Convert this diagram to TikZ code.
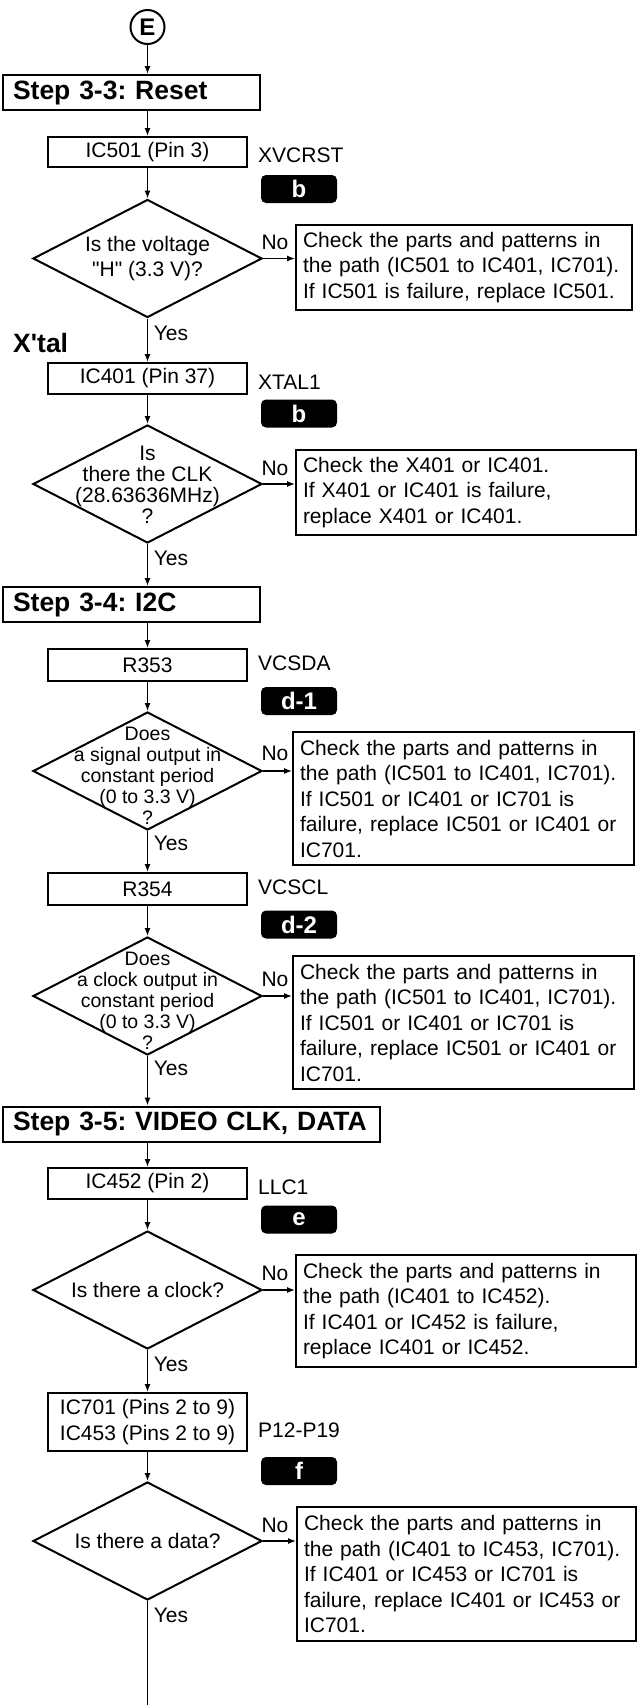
\documentclass[tikz,border=0pt]{standalone}
\usepackage{fontspec}
\setmainfont{Liberation Sans}[Ligatures=TeXOff]
\frenchspacing
\usetikzlibrary{shapes.geometric,arrows.meta}
\tikzset{
 box/.style={draw, line width=2pt, rectangle, inner sep=0pt, minimum width=199pt, font=\fontsize{21}{26}\selectfont, align=center},
 stepbox/.style={draw, line width=2pt, rectangle, inner xsep=10pt, inner ysep=0pt, minimum height=35pt, font=\bfseries\fontsize{26.5}{30}\selectfont, align=left},
 dia/.style={draw, line width=2pt, diamond, inner sep=0pt, minimum width=229pt, minimum height=118pt},
 diatext/.style={font=\fontsize{21}{25}\selectfont, align=center, inner sep=0pt},
 diatight/.style={font=\fontsize{21}{21}\selectfont, align=center, inner sep=0pt},
 diasmall/.style={font=\fontsize{19.5}{21}\selectfont, align=center, inner sep=0pt},
 badge/.style={fill=black, rounded corners=5pt, text=white, font=\bfseries\fontsize{24}{24}\selectfont, minimum width=76pt, minimum height=28pt, inner sep=0pt},
 chk/.style={draw, line width=2pt, rectangle, inner xsep=7pt, inner ysep=0pt, align=left, font=\fontsize{21}{25.5}\selectfont},
 lbl/.style={font=\fontsize{21}{25}\selectfont, inner sep=0pt},
 boldlbl/.style={font=\bfseries\fontsize{26.5}{30}\selectfont, inner sep=0pt},
 arr/.style={line width=1.2pt, -{Latex[length=8pt,width=6pt]}},
 plain/.style={line width=1.2pt},
}
\begin{document}
\begin{tikzpicture}[x=1pt,y=-1pt]
\useasboundingbox (0,0) rectangle (637,1705);
% E connector
\node[draw, circle, line width=2pt, minimum size=34pt, inner sep=0pt, font=\bfseries\fontsize{24}{24}\selectfont] (E) at (147.5,27) {E};
% Step 3-3
\node[stepbox, text width=237pt] (s33) at (131.5,92.5) {Step 3-3: Reset};
\node[box, minimum height=30pt] (ic501) at (147.5,152) {IC501 (Pin 3)};
\node[lbl, anchor=west] (xvcrst) at (258,155) {XVCRST};
\node[badge] (bA) at (299,189) {b};
\node[dia] (d1) at (147.5,258.5) {};
\node[diatext] (d1t) at (147.5,258.5) {Is the voltage\\"H" (3.3 V)?};
\node[lbl] (no1) at (275,242) {No};
\node[chk, text width=322pt, minimum height=85pt] (c1) at (464,267.5) {Check the parts and patterns in\\the path (IC501 to IC401, IC701).\\If IC501 is failure, replace IC501.};
\node[lbl] (yes1) at (171,333) {Yes};
% X'tal
\node[boldlbl, anchor=west] (xtal) at (13,343) {X'tal};
\node[box, minimum height=31pt] (ic401) at (147.5,378.5) {IC401 (Pin 37)};
\node[lbl, anchor=west] (xtal1) at (258,382) {XTAL1};
\node[badge] (bB) at (299,413.5) {b};
\node[dia] (d2) at (147.5,484) {};
\node[diatight] (d2t) at (147.5,485) {Is\\there the CLK\\(28.63636MHz)\\?};
\node[lbl] (no2) at (275,468) {No};
\node[chk, text width=326pt, minimum height=85pt] (c2) at (466,492.5) {Check the X401 or IC401.\\If X401 or IC401 is failure,\\replace X401 or IC401.};
\node[lbl] (yes2) at (171,558) {Yes};
% Step 3-4
\node[stepbox, text width=237pt] (s34) at (131.5,604.5) {Step 3-4: I2C};
\node[box, minimum height=32pt] (r353) at (147.5,665) {R353};
\node[lbl, anchor=west] (vcsda) at (258,663) {VCSDA};
\node[badge] (bC) at (299,701) {d-1};
\node[dia] (d3) at (147.5,771) {};
\node[diasmall] (d3t) at (147.5,776) {Does\\a signal output in\\constant period\\(0 to 3.3 V)\\?};
\node[lbl] (no3) at (275,753) {No};
\node[chk, text width=327pt, minimum height=133pt] (c3) at (463.5,798.5) {Check the parts and patterns in\\the path (IC501 to IC401, IC701).\\If IC501 or IC401 or IC701 is\\failure, replace IC501 or IC401 or\\IC701.};
\node[lbl] (yes3) at (171,843) {Yes};
\node[box, minimum height=32pt] (r354) at (147.5,889) {R354};
\node[lbl, anchor=west] (vcscl) at (258,887) {VCSCL};
\node[badge] (bD) at (299,924.5) {d-2};
\node[dia] (d4) at (147.5,996) {};
\node[diasmall] (d4t) at (147.5,1001) {Does\\a clock output in\\constant period\\(0 to 3.3 V)\\?};
\node[lbl] (no4) at (275,979) {No};
\node[chk, text width=327pt, minimum height=133pt] (c4) at (463.5,1022.5) {Check the parts and patterns in\\the path (IC501 to IC401, IC701).\\If IC501 or IC401 or IC701 is\\failure, replace IC501 or IC401 or\\IC701.};
\node[lbl] (yes4) at (171,1068) {Yes};
% Step 3-5
\node[stepbox, text width=357pt] (s35) at (191.5,1124) {Step 3-5: VIDEO CLK, DATA};
\node[box, minimum height=31pt] (ic452) at (147.5,1183.5) {IC452 (Pin 2)};
\node[lbl, anchor=west] (llc1) at (258,1187) {LLC1};
\node[badge] (bE) at (299,1219.5) {e};
\node[dia] (d5) at (147.5,1290) {};
\node[diatext] (d5t) at (147.5,1290) {Is there a clock?};
\node[lbl] (no5) at (275,1273) {No};
\node[chk, text width=326pt, minimum height=112pt] (c5) at (466,1311) {Check the parts and patterns in\\the path (IC401 to IC452).\\If IC401 or IC452 is failure,\\replace IC401 or IC452.};
\node[lbl] (yes5) at (171,1364) {Yes};
\node[box, minimum height=58pt] (ic701) at (147.5,1422) {IC701 (Pins 2 to 9)\\IC453 (Pins 2 to 9)};
\node[lbl, anchor=west] (p12) at (258,1430) {P12-P19};
\node[badge] (bF) at (299,1471) {f};
\node[dia] (d6) at (147.5,1541) {};
\node[diatext] (d6t) at (147.5,1541) {Is there a data?};
\node[lbl] (no6) at (275,1525) {No};
\node[chk, text width=325pt, minimum height=134pt] (c6) at (466.5,1574) {Check the parts and patterns in\\the path (IC401 to IC453, IC701).\\If IC401 or IC453 or IC701 is\\failure, replace IC401 or IC453 or\\IC701.};
\node[lbl] (yes6) at (171,1615) {Yes};
\coordinate (endpt) at (147.5,1705);
% connectors
\draw[arr] (E.south) -- (E |- s33.north);
\draw[arr] (ic501 |- s33.south) -- (ic501.north);
\draw[arr] (ic501.south) -- (d1.north);
\draw[arr] (d1.east) -- (d1.east -| c1.west);
\draw[arr] (d1.south) -- (ic401.north);
\draw[arr] (ic401.south) -- (d2.north);
\draw[arr] (d2.east) -- (d2.east -| c2.west);
\draw[arr] (d2.south) -- (d2.south |- s34.north);
\draw[arr] (r353 |- s34.south) -- (r353.north);
\draw[arr] (r353.south) -- (d3.north);
\draw[arr] (d3.east) -- (d3.east -| c3.west);
\draw[arr] (d3.south) -- (r354.north);
\draw[arr] (r354.south) -- (d4.north);
\draw[arr] (d4.east) -- (d4.east -| c4.west);
\draw[arr] (d4.south) -- (d4.south |- s35.north);
\draw[arr] (ic452 |- s35.south) -- (ic452.north);
\draw[arr] (ic452.south) -- (d5.north);
\draw[arr] (d5.east) -- (d5.east -| c5.west);
\draw[arr] (d5.south) -- (ic701.north);
\draw[arr] (ic701.south) -- (d6.north);
\draw[arr] (d6.east) -- (d6.east -| c6.west);
\draw[plain] (d6.south) -- (endpt);
\end{tikzpicture}
\end{document}
